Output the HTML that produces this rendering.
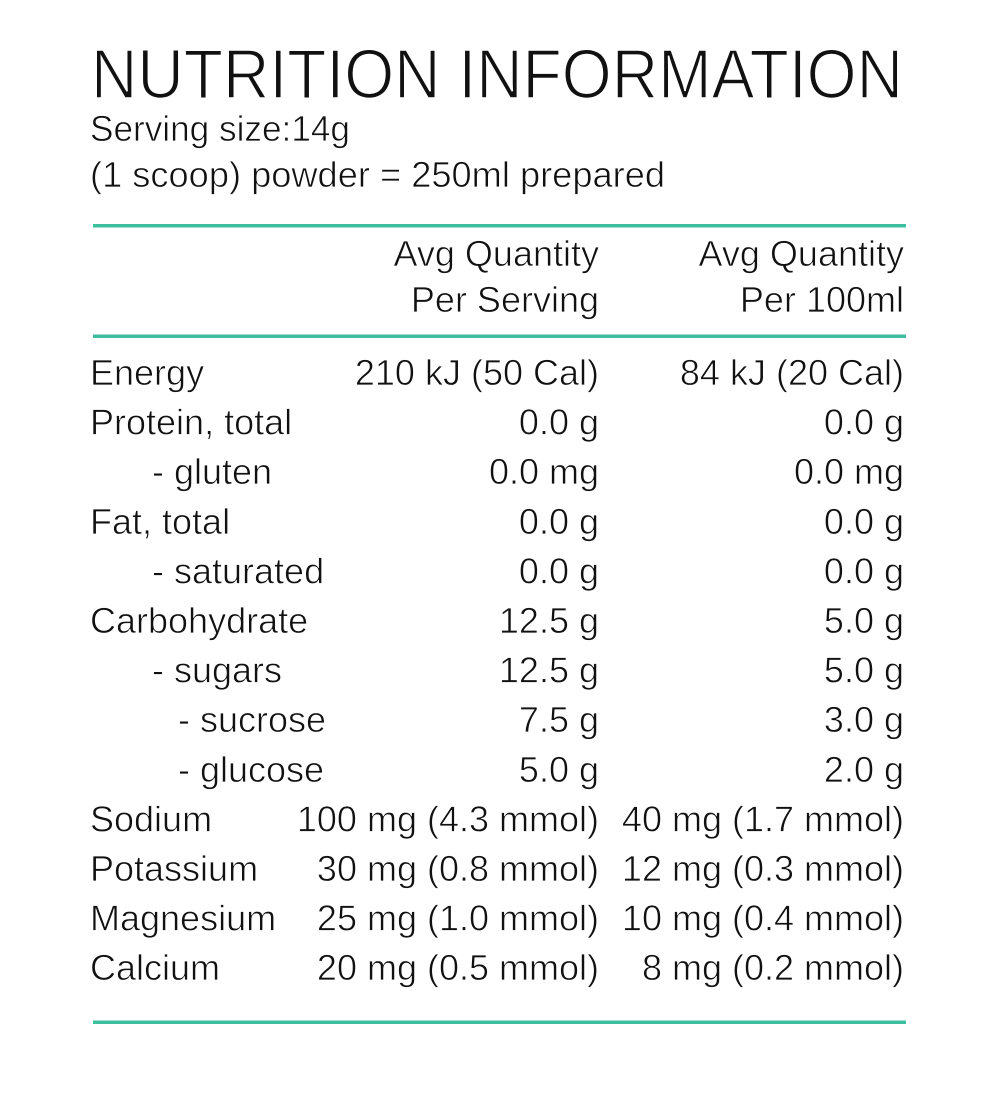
<!DOCTYPE html>
<html><head><meta charset="utf-8"><style>
html,body{margin:0;padding:0;background:#fff;}
svg{display:block;}
text{font-family:"Liberation Sans",Arial,sans-serif;fill:#111;}
.t{stroke:#fff;stroke-width:1.6px;}
.b{stroke:#fff;stroke-width:0.7px;}
</style></head><body>
<svg width="1000" height="1114" viewBox="0 0 1000 1114" xmlns="http://www.w3.org/2000/svg">
<rect width="1000" height="1114" fill="#fff"/>
<text class="t" x="91" y="98" font-size="70" textLength="812" lengthAdjust="spacingAndGlyphs">NUTRITION INFORMATION</text>
<text class="b" x="90" y="141" font-size="36" textLength="260" lengthAdjust="spacingAndGlyphs">Serving size:14g</text>
<text class="b" x="90" y="187" font-size="36" textLength="575" lengthAdjust="spacingAndGlyphs">(1 scoop) powder = 250ml prepared</text>
<rect x="93" y="224" width="813" height="3.5" fill="#3dbf9f"/>
<g font-size="36" text-anchor="end" class="b">
<text x="599" y="266">Avg Quantity</text>
<text x="599" y="312">Per Serving</text>
<text x="904" y="266">Avg Quantity</text>
<text x="904" y="312">Per 100ml</text>
</g>
<rect x="93" y="334.5" width="813" height="3.5" fill="#3dbf9f"/>
<g font-size="36" class="b">
<text x="90" y="385">Energy</text>
<text x="90" y="434.6">Protein, total</text>
<text x="152" y="484.2">- gluten</text>
<text x="90" y="533.8">Fat, total</text>
<text x="152" y="583.4">- saturated</text>
<text x="90" y="633">Carbohydrate</text>
<text x="152" y="682.6">- sugars</text>
<text x="178" y="732.2">- sucrose</text>
<text x="178" y="781.8">- glucose</text>
<text x="90" y="831.4">Sodium</text>
<text x="90" y="881">Potassium</text>
<text x="90" y="930.6">Magnesium</text>
<text x="90" y="980.2">Calcium</text>
</g>
<g font-size="36" text-anchor="end" class="b">
<text x="599" y="385">210 kJ (50 Cal)</text>
<text x="599" y="434.6">0.0 g</text>
<text x="599" y="484.2">0.0 mg</text>
<text x="599" y="533.8">0.0 g</text>
<text x="599" y="583.4">0.0 g</text>
<text x="599" y="633">12.5 g</text>
<text x="599" y="682.6">12.5 g</text>
<text x="599" y="732.2">7.5 g</text>
<text x="599" y="781.8">5.0 g</text>
<text x="599" y="831.4">100 mg (4.3 mmol)</text>
<text x="599" y="881">30 mg (0.8 mmol)</text>
<text x="599" y="930.6">25 mg (1.0 mmol)</text>
<text x="599" y="980.2">20 mg (0.5 mmol)</text>
<text x="904" y="385">84 kJ (20 Cal)</text>
<text x="904" y="434.6">0.0 g</text>
<text x="904" y="484.2">0.0 mg</text>
<text x="904" y="533.8">0.0 g</text>
<text x="904" y="583.4">0.0 g</text>
<text x="904" y="633">5.0 g</text>
<text x="904" y="682.6">5.0 g</text>
<text x="904" y="732.2">3.0 g</text>
<text x="904" y="781.8">2.0 g</text>
<text x="904" y="831.4">40 mg (1.7 mmol)</text>
<text x="904" y="881">12 mg (0.3 mmol)</text>
<text x="904" y="930.6">10 mg (0.4 mmol)</text>
<text x="904" y="980.2">8 mg (0.2 mmol)</text>
</g>
<rect x="93" y="1020.5" width="813" height="3.5" fill="#3dbf9f"/>
</svg>
</body></html>
